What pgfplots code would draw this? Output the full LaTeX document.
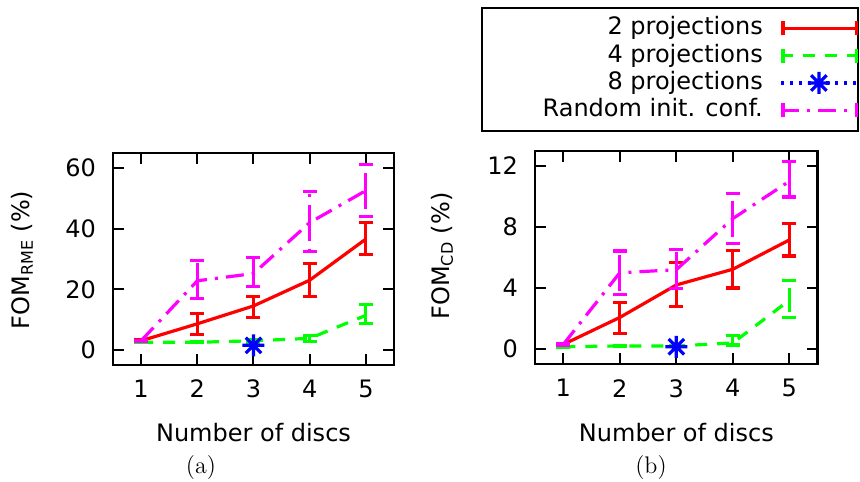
\documentclass[border=0pt]{standalone}
\usepackage{fontspec}
\usepackage{pgfplots}
\pgfplotsset{compat=1.18}
\newfontfamily\djv{DejaVu Sans}
\newcommand\gpfont{\djv\fontsize{12}{14}\selectfont}

\definecolor{gpred}{RGB}{255,0,0}
\definecolor{gpgreen}{RGB}{0,255,0}
\definecolor{gpblue}{RGB}{0,0,255}
\definecolor{gpmag}{RGB}{255,0,255}

% gnuplot's "*" point: a + and an x on top of each other
\pgfdeclareplotmark{gpstar}{%
  \pgfpathmoveto{\pgfqpoint{-\pgfplotmarksize}{0pt}}%
  \pgfpathlineto{\pgfqpoint{\pgfplotmarksize}{0pt}}%
  \pgfpathmoveto{\pgfqpoint{0pt}{-\pgfplotmarksize}}%
  \pgfpathlineto{\pgfqpoint{0pt}{\pgfplotmarksize}}%
  \pgfpathmoveto{\pgfqpoint{-0.707\pgfplotmarksize}{-0.707\pgfplotmarksize}}%
  \pgfpathlineto{\pgfqpoint{0.707\pgfplotmarksize}{0.707\pgfplotmarksize}}%
  \pgfpathmoveto{\pgfqpoint{-0.707\pgfplotmarksize}{0.707\pgfplotmarksize}}%
  \pgfpathlineto{\pgfqpoint{0.707\pgfplotmarksize}{-0.707\pgfplotmarksize}}%
  \pgfusepathqstroke}

\pgfplotsset{
  gp/.style={
    scale only axis,
    xmin=0.5, xmax=5.5, xtick={1,2,3,4,5},
    tick align=inside, tick pos=both,
    major tick length=5.5pt,
    axis line style={line width=1.15pt},
    every tick/.style={black, line width=1pt},
    tick label style={font=\gpfont},
    /pgf/number format/assume math mode=true,
    xticklabel style={yshift=-4pt},
    yticklabel style={xshift=-5pt},
    clip=false,
  },
  ebar/.style={error bars/y dir=both, error bars/y explicit, error bars/error mark=|,
    error bars/error bar style={line width=1.6pt},
    error bars/error mark options={solid, line width=1.6pt, mark size=3.5pt}},
  capimg/.style={legend image code/.code={
      \draw[##1] (0pt,0pt) -- (37.5pt,0pt);
      \draw[##1, solid] (0.8pt,-3.5pt) -- (0.8pt,3.5pt) (37.5pt,-3.5pt) -- (37.5pt,3.5pt);}},
  sred/.style={gpred, solid, line width=1.6pt, no markers, ebar, capimg},
  sgreen/.style={gpgreen, dash pattern=on 6pt off 5pt, line width=1.6pt, no markers, ebar, capimg},
  sblue/.style={gpblue, dash pattern=on 1.5pt off 3pt, line width=1.6pt, mark=gpstar,
    mark size=5.5pt, mark options={solid},
    legend image code/.code={\draw[mark repeat=2, mark phase=2, ##1]
      plot coordinates {(0pt,0pt) (18.75pt,0pt) (37.5pt,0pt)};}},
  smag/.style={gpmag, dash pattern=on 9pt off 4pt on 1.5pt off 4pt, line width=1.6pt, no markers, ebar, capimg},
}

\begin{document}
\begin{tikzpicture}
\path[use as bounding box] (0,0) rectangle (430pt,240.5pt);

% (a) FOM_RME
\begin{axis}[gp, at={(56.5pt,58pt)}, anchor=south west,
  width=140.5pt, height=106pt,
  ymin=-5, ymax=65, ytick={0,20,40,60}]
\addplot[sred] table[x=x, y=y, y error plus=ep, y error minus=em] {
x y ep em
1 3.0 0.3 0.3
2 8.6 3.4 3.6
3 14.5 3.2 3.7
4 23.0 5.5 5.5
5 36.6 5.4 5.1
};
\addplot[sgreen] table[x=x, y=y, y error plus=ep, y error minus=em] {
x y ep em
1 2.5 0.2 0.2
2 2.5 0.2 0.2
3 3.0 0.4 0.4
4 3.8 1.0 1.0
5 11.4 3.5 2.6
};
\addplot[sblue] coordinates {(3,1.5)};
\addplot[smag] table[x=x, y=y, y error plus=ep, y error minus=em] {
x y ep em
1 3.0 0.2 0.2
2 22.8 6.8 5.9
3 25.2 5.2 4.4
4 42.0 10.3 9.6
5 52.6 8.5 8.6
};
\end{axis}

% (b) FOM_CD
\begin{axis}[gp, at={(267.5pt,58.35pt)}, anchor=south west,
  width=141.3pt, height=106.8pt,
  ymin=-1, ymax=13, ytick={0,4,8,12},
  legend style={draw=black, line width=1pt, font=\gpfont,
    at={(1.1465,1.6728)}, anchor=north east,
    inner xsep=0pt, inner ysep=4.4pt, row sep=2.05pt, column sep=8.5pt,
    nodes={inner sep=0pt, text height=9pt, text depth=2.6pt}},
  legend cell align=right, legend plot pos=right]
\addplot[sred] table[x=x, y=y, y error plus=ep, y error minus=em] {
x y ep em
1 0.3 0.05 0.05
2 2.07 0.98 1.07
3 4.2 1.47 1.4
4 5.23 1.24 1.23
5 7.15 1.08 1.05
};
\addlegendentry{\makebox[140.5pt][r]{2 projections}}
\addplot[sgreen] table[x=x, y=y, y error plus=ep, y error minus=em] {
x y ep em
1 0.15 0.02 0.02
2 0.2 0.02 0.02
3 0.2 0.05 0.05
4 0.4 0.47 0.14
5 3.2 1.3 1.15
};
\addlegendentry{\makebox[140.5pt][r]{4 projections}}
\addplot[sblue] coordinates {(3,0.15)};
\addlegendentry{\makebox[140.5pt][r]{8 projections}}
\addplot[smag] table[x=x, y=y, y error plus=ep, y error minus=em] {
x y ep em
1 0.3 0.05 0.05
2 5.0 1.43 1.4
3 5.2 1.35 1.25
4 8.55 1.65 1.65
5 11.0 1.3 1.03
};
\addlegendentry{\makebox[140.5pt][r]{Random init. conf.}}
\end{axis}

\node[rotate=90, font=\gpfont] at (11pt,110.5pt) {FOM\textsubscript{RME} (\%)};
\node[rotate=90, font=\gpfont] at (221pt,112.5pt) {FOM\textsubscript{CD} (\%)};
\node[font=\gpfont] at (126.75pt,24pt) {Number of discs};
\node[font=\gpfont] at (338.2pt,24pt) {Number of discs};
\node[font=\fontsize{12}{14}\selectfont] at (100.5pt,6.5pt) {(a)};
\node[font=\fontsize{12}{14}\selectfont] at (325.5pt,6.5pt) {(b)};
\end{tikzpicture}
\end{document}
